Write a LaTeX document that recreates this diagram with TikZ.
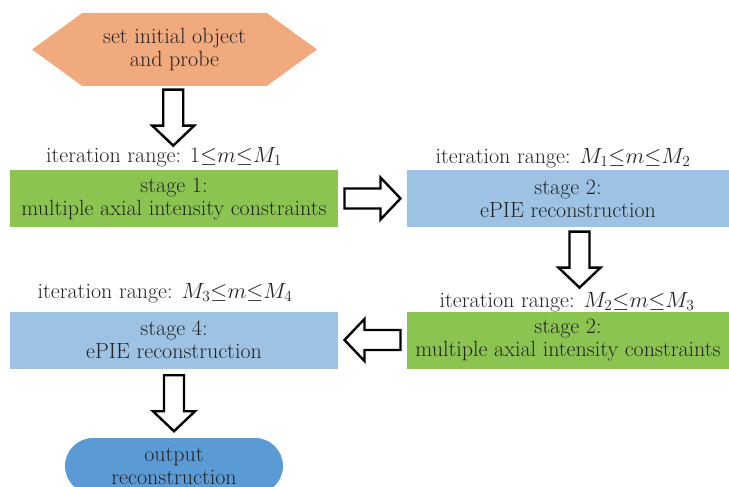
\RequirePackage{fix-cm}
\documentclass[tikz,border=0pt]{standalone}
\usepackage{fontspec}
\usetikzlibrary{shapes.symbols,shapes.misc,calc}
\definecolor{orng}{RGB}{240,170,126}
\definecolor{grn}{RGB}{140,196,82}
\definecolor{lblue}{RGB}{158,194,227}
\definecolor{dblue}{RGB}{91,155,213}
\definecolor{txt}{RGB}{35,35,35}
\tikzset{
  pics/hollowarrow/.style={code={
    \draw[line width=2.4pt,fill=white,line join=miter]
      (-28,-10) -- (8,-10) -- (8,-21) -- (28,0) -- (8,21) -- (8,10) -- (-28,10) -- cycle;
  }}}
\begin{document}
\begin{tikzpicture}[x=1pt,y=-1pt,
  every node/.style={text=txt,font=\fontsize{22}{23}\selectfont,align=center},
  stagebox/.style={rectangle,inner sep=0pt,minimum height=57pt},
  lbl/.style={inner sep=0pt}]
\useasboundingbox (0,0) rectangle (729,487);
\fill[white] (0,0) rectangle (729,487);
\node[signal,signal to=west and east,signal pointer angle=72,fill=orng,
  minimum width=285pt,minimum height=73pt,inner sep=0pt] (start) at (174.5,49.5)
  {set initial object\\and probe};
\node[stagebox,fill=grn,minimum width=328pt] (s1) at (174,198.5)
  {stage 1:\\multiple axial intensity constraints};
\node[stagebox,fill=lblue,minimum width=322pt] (s2) at (568,198.5)
  {stage 2:\\ePIE reconstruction};
\node[stagebox,fill=grn,minimum width=322pt] (s3) at (568,340)
  {stage 2:\\multiple axial intensity constraints};
\node[stagebox,fill=lblue,minimum width=328pt] (s4) at (174,340)
  {stage 4:\\ePIE reconstruction};
\node[rounded rectangle,fill=dblue,minimum width=218pt,minimum height=56pt,inner sep=0pt]
  (out) at (174,466) {output\\reconstruction};
\node[lbl] (l1) at (164,157) {iteration range: $1{\le}m{\le}M_1$};
\node[lbl] (l2) at (563,158) {iteration range: $M_1{\le}m{\le}M_2$};
\node[lbl] (l3) at (567,302) {iteration range: $M_2{\le}m{\le}M_3$};
\node[lbl] (l4) at (165,293) {iteration range: $M_3{\le}m{\le}M_4$};
\coordinate (c1) at ($(start.south)!0.5!(l1.north)+(4,1)$);
\coordinate (c2) at ($(s1.east)!0.5!(s2.west)$);
\coordinate (c3) at ($(s2.south)!0.5!(l3.north)+(12,0)$);
\coordinate (c4) at ($(s3.west)!0.5!(s4.east)$);
\coordinate (c5) at ($(s4.south)!0.5!(out.north)$);
\pic[rotate=-90] at (c1) {hollowarrow};
\pic at (c2) {hollowarrow};
\pic[rotate=-90] at (c3) {hollowarrow};
\pic[rotate=180] at (c4) {hollowarrow};
\pic[rotate=-90] at (c5) {hollowarrow};
\end{tikzpicture}
\end{document}
